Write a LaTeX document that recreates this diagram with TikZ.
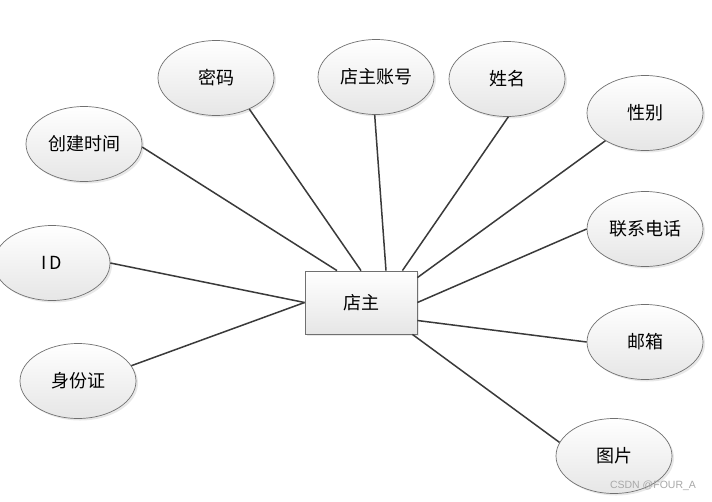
\documentclass[tikz,border=0pt]{standalone}
\usepackage{fontspec}
\setmainfont{Noto Sans CJK SC}
\newfontfamily\wmfont{Liberation Sans}
\usetikzlibrary{shapes.geometric,shadows}
\definecolor{linec}{HTML}{3A3A3A}
\definecolor{borderc}{HTML}{707070}
\definecolor{botc}{HTML}{E6E6E6}
\definecolor{wmc}{HTML}{A8A8A8}
\tikzset{
  attr/.style={ellipse, draw=borderc, line width=0.7pt, top color=white, bottom color=botc,
    minimum width=116pt, minimum height=75pt, inner sep=0pt,
    font=\fontsize{18}{18}\selectfont,
    drop shadow={opacity=0.18, shadow xshift=2pt, shadow yshift=-2pt}},
  entity/.style={rectangle, draw=borderc, line width=0.8pt, top color=white, bottom color=botc,
    minimum width=112pt, minimum height=63pt, inner sep=0pt,
    font=\fontsize{18}{18}\selectfont,
    drop shadow={opacity=0.18, shadow xshift=2pt, shadow yshift=-2pt}},
  conn/.style={draw=linec, line width=1.5pt},
}
\begin{document}
\begin{tikzpicture}[x=1pt,y=-1pt]
\useasboundingbox (0,0) rectangle (712,501);
\fill[white] (0,0) rectangle (712,501);
\node[entity] (r) at (361,302.5) {店主};
\node[attr] (e1) at (84,144) {创建时间};
\node[attr] (e2) at (216,78) {密码};
\node[attr] (e3) at (376,77) {店主账号};
\node[attr] (e4) at (507,79) {姓名};
\node[attr] (e5) at (645,113) {性别};
\node[attr] (e6) at (645,229) {联系电话};
\node[attr] (e7) at (645,342) {邮箱};
\node[attr] (e8) at (614,456) {图片};
\node[attr] (e9) at (78,381) {身份证};
\node[attr] (e10) at (52,263) {I\kern3pt D};
\draw[conn] (e1.-3) -- ([xshift=-24pt]r.north);
\draw[conn] (e2.-43) -- (r.north);
\draw[conn] (e3.-92) -- ([xshift=25pt]r.north);
\draw[conn] (e4.-88) -- ([xshift=-15pt]r.north east);
\draw[conn] (e5.-145) -- ([yshift=-7pt]r.north east);
\draw[conn] (e6.180) -- (r.east);
\draw[conn] (e7.180) -- ([yshift=-18pt]r.east);
\draw[conn] (e8.166) -- ([xshift=-5pt]r.south east);
\draw[conn] (e9.16) -- (r.west);
\draw[conn] (e10.0) -- (r.west);
\node[font=\wmfont\fontsize{10.5}{10.5}\selectfont, text=wmc] (wm) at (653,486) {CSDN @FOUR\_A};
\end{tikzpicture}
\end{document}
